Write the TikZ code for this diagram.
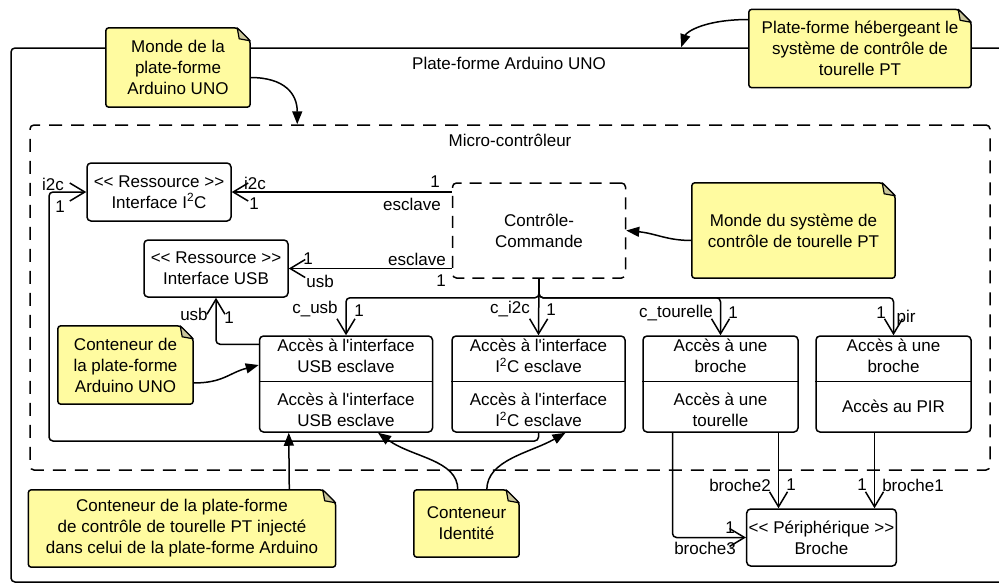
\documentclass[tikz,border=0pt]{standalone}
\usepackage{fontspec}
\setmainfont{Liberation Sans}
\usetikzlibrary{calc,arrows.meta,positioning,backgrounds}
\definecolor{notey}{HTML}{FFFBA0}
\definecolor{notefold}{HTML}{C9C59B}
\tikzset{
  box/.style={draw=black, line width=1.5pt, rounded corners=4pt, fill=white, align=center, inner sep=2pt},
  res/.style={box, minimum width=144pt, minimum height=57pt},
  acc/.style={box, minimum width=173pt, minimum height=96pt},
  accn/.style={acc, minimum width=155pt},
  part/.style={align=center, inner sep=0pt},
  ctrl/.style={box, dash pattern=on 12pt off 8pt, minimum width=173pt, minimum height=95pt},
  cadre/.style={draw=black, line width=1.5pt, rounded corners=4pt, inner sep=0pt},
  note/.style={align=center, inner sep=0pt},
  notebg/.style={draw=black, line width=1.5pt, fill=notey, rounded corners=3pt},
  foldbg/.style={draw=black, line width=1.2pt, fill=notefold, line join=round},
  assoc/.style={-{Straight Barb[length=15pt,width=18pt]}, line width=1.5pt, rounded corners=4pt},
  link/.style={-{Triangle[length=13pt,width=10pt]}, line width=1.5pt},
  lbl/.style={inner sep=0pt}
}

\begin{document}
\begin{tikzpicture}[x=1pt, y=-1pt, font=\fontsize{17}{21}\selectfont]
  \useasboundingbox (0,0) rectangle (999,584);

  % cadres
  \begin{scope}[on background layer]
    \node[cadre, minimum width=1009pt, minimum height=534pt] (platef) at (515.5,315) {};
    \node[cadre, dash pattern=on 13pt off 9pt, minimum width=960pt, minimum height=345pt] (micro) at (510,297.5) {};
  \end{scope}
  \node (tplatef) at (509,63) {Plate-forme Arduino UNO};
  \node (tmicro) at (510,140) {Micro-contrôleur};

  % ressources et controle-commande
  \node[res, minimum height=58pt] (i2c) at (159,192) {<{}< Ressource >{}>\\Interface I\textsuperscript{2}C};
  \node[res] (usb) at (216,268.5) {<{}< Ressource >{}>\\Interface USB};
  \node[ctrl] (cc) at (539,230.5) {Contrôle-\\Commande};

  % acces
  \node[acc] (ausb) at (346,384) {};
  \node[acc] (ai2c) at (538.5,384) {};
  \node[accn] (atour) at (720.5,384) {};
  \node[accn] (apir) at (893.5,384) {};
  \foreach \b in {ausb,ai2c,atour,apir}
    \draw[line width=1.5pt] ($(\b.north west)+(0,46)$) -- ($(\b.north east)+(0,46)$);
  \node[part] (ausbh) at ($(ausb.north)+(0,21)$) {Accès à l\textquotesingle interface\\USB esclave};
  \node[part] (ausbb) at ($(ausb.south)+(0,-23)$) {Accès à l\textquotesingle interface\\USB esclave};
  \node[part] (ai2ch) at ($(ai2c.north)+(0,21)$) {Accès à l\textquotesingle interface\\I\textsuperscript{2}C esclave};
  \node[part] (ai2cb) at ($(ai2c.south)+(0,-23)$) {Accès à l\textquotesingle interface\\I\textsuperscript{2}C esclave};
  \node[part] (atourh) at ($(atour.north)+(0,21)$) {Accès à une\\broche};
  \node[part] (atourb) at ($(atour.south)+(0,-23)$) {Accès à une\\tourelle};
  \node[part] (apirh) at ($(apir.north)+(0,21)$) {Accès à une\\broche};
  \node[part] (apirb) at ($(apir.south)+(0,-26)$) {Accès au PIR};

  \node[res, minimum width=143pt] (periph) at (821.5,537.5) {<{}< Périphérique >{}>\\Broche};

  % notes
  \node[note, minimum width=144pt, minimum height=79pt] (nmonde) at (178,67.5) {Monde de la\\plate-forme\\Arduino UNO};
  \node[note, minimum width=222pt, minimum height=78pt] (nheberg) at (860,48.5) {Plate-forme hébergeant le\\système de contrôle de\\tourelle PT};
  \node[note, minimum width=203pt, minimum height=95pt] (nsyst) at (793.5,230.5) {Monde du système de\\contrôle de tourelle PT};
  \node[note, minimum width=135pt, minimum height=78pt] (ncontA) at (125.5,365) {Conteneur de\\la plate-forme\\Arduino UNO};
  \node[note, minimum width=307pt, minimum height=77pt] (ncontB) at (182,528.5) {Conteneur de la plate-forme\\de contrôle de tourelle PT injecté\\dans celui de la plate-forme Arduino};
  \node[note, minimum width=105pt, minimum height=67pt] (nident) at (466.5,523.5) {Conteneur\\Identité};
  \begin{scope}[on background layer]
    \foreach \n in {nmonde,nheberg,nsyst,ncontA,ncontB,nident} {
      \draw[notebg] (\n.north west) -- ($(\n.north east)+(-13,0)$) -- ($(\n.north east)+(0,13)$) -- (\n.south east) -- (\n.south west) -- cycle;
      \draw[foldbg] ($(\n.north east)+(-13,0)$) -- ($(\n.north east)+(-11,11)$) -- ($(\n.north east)+(0,13)$) -- cycle;
    }
  \end{scope}

  % associations
  \draw[assoc] (i2c.east -| cc.west) -- (i2c.east);
  \draw[assoc] (usb.east -| cc.west) -- (usb.east);
  \coordinate (bus) at ($(cc.south)+(0,19)$);
  \draw[assoc] (cc.south) -- (bus) -| (ausb.north);
  \draw[assoc] (cc.south) -- (ai2c.north);
  \draw[assoc] (cc.south) -- (bus) -| (atour.north);
  \draw[assoc] (cc.south) -- (bus) -| (apir.north);
  \draw[assoc] ($(ausb.north west)+(0,9)$) -| (usb.south);
  \coordinate (ret) at (49,441);
  \draw[assoc] (ai2c.south) |- (ret) |- (i2c.west);
  \coordinate (b3) at ($(atour.south)+(-48,0)$);
  \coordinate (b2) at ($(atour.south)+(58,0)$);
  \coordinate (b1) at ($(apir.south)+(-19,0)$);
  \draw[assoc] (b3) |- (periph.west);
  \draw[assoc] (b2) -- (b2 |- periph.north);
  \draw[assoc] (b1) -- (b1 |- periph.north);

  % roles et multiplicites
  \node[lbl] (r1) at (255,183) {i2c};
  \node[lbl] (r2) at (254,204) {1};
  \node[lbl] (r3) at (435,182) {1};
  \node[lbl] (r4) at (412,204) {esclave};
  \node[lbl] (r5) at (308,259) {1};
  \node[lbl] (r6) at (320,281) {usb};
  \node[lbl] (r7) at (417,259) {esclave};
  \node[lbl] (r8) at (441,281) {1};
  \node[lbl] (r9) at (194,314) {usb};
  \node[lbl] (r10) at (229,318) {1};
  \node[lbl] (r11) at (315,309) {c\_usb};
  \node[lbl] (r12) at (359,311) {1};
  \node[lbl] (r13) at (510,309) {c\_i2c};
  \node[lbl] (r14) at (551,310) {1};
  \node[lbl] (r15) at (676,313) {c\_tourelle};
  \node[lbl] (r16) at (733,313) {1};
  \node[lbl] (r17) at (881,313) {1};
  \node[lbl] (r18) at (906,318) {pir};
  \node[lbl] (r19) at (53,184) {i2c};
  \node[lbl] (r20) at (60,207) {1};
  \node[lbl] (r21) at (740,485) {broche2};
  \node[lbl] (r22) at (791,485) {1};
  \node[lbl] (r23) at (862,485) {1};
  \node[lbl] (r24) at (913,485) {broche1};
  \node[lbl] (r25) at (730,528) {1};
  \node[lbl] (r26) at (705,548) {broche3};

  % liens des notes
  \draw[link] ($(nmonde.east)+(0,10)$) .. controls +(35,0) and +(0,-30) .. ($(micro.north west)+(268,0)$);
  \draw[link] ($(nheberg.west)+(0,-29)$) .. controls +(-45,0) and +(5,-15) .. ($(platef.north west)+(671,0)$);
  \draw[link] ($(nsyst.west)+(0,10)$) .. controls +(-25,0) and +(30,3) .. (cc.east);
  \draw[link] ($(ncontA.east)+(0,18)$) .. controls +(30,0) and +(-30,8) .. ($(ausb.west)+(0,-19)$);
  \draw[link] ($(ncontB.north west)+(261,0)$) -- ($(ausb.south west)+(30,0)$);
  \draw[link] ($(nident.north west)+(44,0)$) .. controls +(0,-30) and +(35,25) .. ($(ausb.south)+(32,0)$);
  \draw[link] ($(nident.north west)+(73,0)$) .. controls +(0,-30) and +(-35,20) .. ($(ai2c.south)+(27,0)$);
\end{tikzpicture}
\end{document}
